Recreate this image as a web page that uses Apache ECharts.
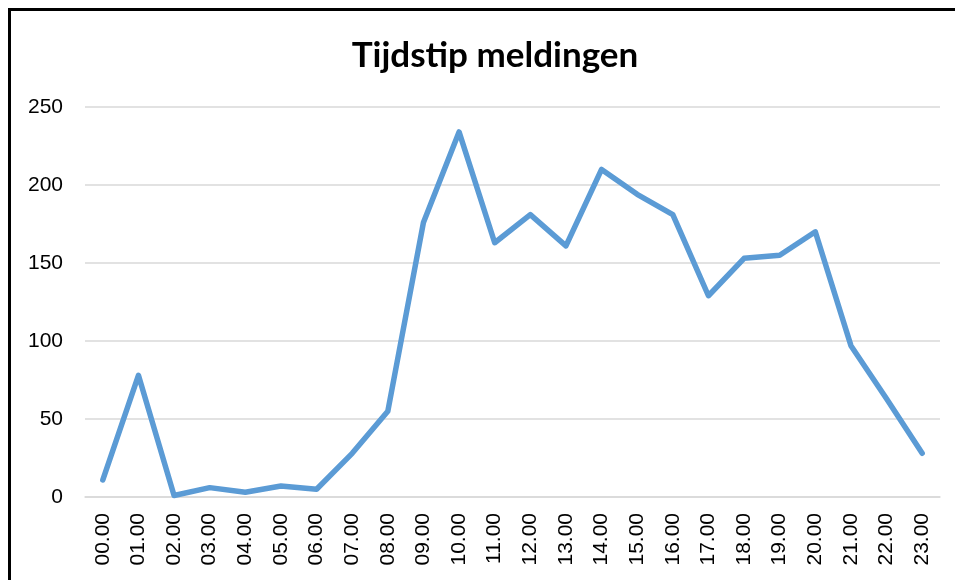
<!DOCTYPE html>
<html lang="nl">
<head>
    <meta charset="UTF-8">
    <title>Tijdstip meldingen</title>
    <script src="https://cdn.jsdelivr.net/npm/echarts@6/dist/echarts.min.js"></script>
    <style>
        body { margin: 0; background: #fff; overflow: hidden; }
        #main { position: absolute; left: 0; top: 0; width: 955px; height: 580px; }
        #frame {
            position: absolute; left: 8px; top: 8px; width: 1000px; height: 700px;
            border-left: 3px solid #000; border-top: 3px solid #000;
            pointer-events: none;
        }
    </style>
</head>
<body>
<div id="main"></div>
<div id="frame"></div>
<script type="text/javascript">
// uren van de dag
var hours = ['00.00', '01.00', '02.00', '03.00', '04.00', '05.00', '06.00', '07.00',
    '08.00', '09.00', '10.00', '11.00', '12.00', '13.00', '14.00', '15.00',
    '16.00', '17.00', '18.00', '19.00', '20.00', '21.00', '22.00', '23.00'];
// aantal meldingen per uur
var meldingen = [11, 78, 1, 6, 3, 7, 5, 28, 55, 176, 234, 163, 181, 161, 210, 194,
    181, 129, 153, 155, 170, 97, 63, 28];

var myChart = echarts.init(document.getElementById('main'));
var option = {
    animation: false,
    title: {
        text: 'Tijdstip meldingen',
        left: 490,
        textAlign: 'center',
        top: 33,
        textStyle: { fontFamily: 'Lato', fontWeight: 'bold', fontSize: 35, color: '#000' }
    },
    grid: { left: 85, right: 15, top: 107, bottom: 83 },
    xAxis: {
        type: 'category',
        data: hours,
        boundaryGap: true,
        axisLine: { lineStyle: { color: '#d9d9d9', width: 1.5 } },
        axisTick: { show: false },
        axisLabel: {
            rotate: 90, margin: 16, interval: 0,
            fontFamily: 'Liberation Sans', fontSize: 21, color: '#000'
        }
    },
    yAxis: {
        type: 'value',
        min: 0, max: 250, interval: 50,
        axisLine: { show: false },
        axisTick: { show: false },
        splitLine: { lineStyle: { color: '#d9d9d9', width: 1.5 } },
        axisLabel: { margin: 22, fontFamily: 'Liberation Sans', fontSize: 21, color: '#000' }
    },
    series: [{
        name: 'meldingen',
        type: 'line',
        data: meldingen,
        showSymbol: false,
        lineStyle: { color: '#5b9bd5', width: 5.5, cap: 'round', join: 'round' }
    }]
};
myChart.setOption(option);
</script>
</body>
</html>
